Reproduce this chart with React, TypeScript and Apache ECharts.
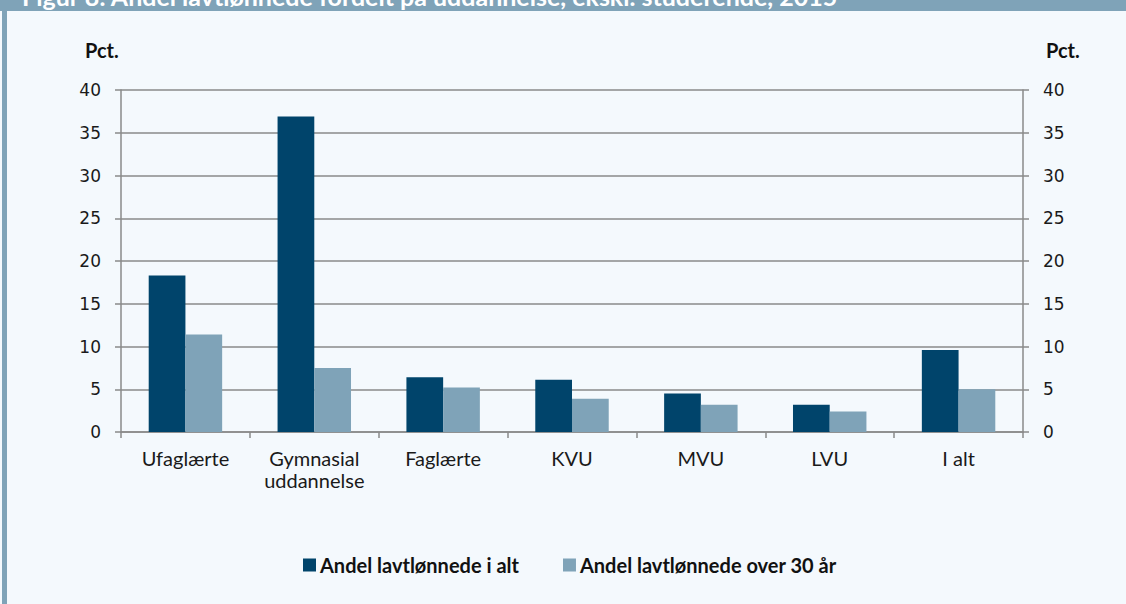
import React, { useEffect, useRef } from "react";
import * as echarts from "echarts";

const categories = ["Ufaglærte", "Gymnasial\nuddannelse", "Faglærte", "KVU", "MVU", "LVU", "I alt"];
const seriesNames = ["Andel lavtlønnede i alt", "Andel lavtlønnede over 30 år"];
const totalValues = [18.3, 36.9, 6.4, 6.1, 4.5, 3.2, 9.6];
const over30Values = [11.4, 7.5, 5.2, 3.9, 3.2, 2.4, 5.0];
const titleText = "Figur 8: Andel lavtlønnede fordelt på uddannelse, ekskl. studerende, 2015";
const unitLabel = "Pct.";

const DARK = "#00446b";
const LIGHT = "#7fa3b8";
const BG = "#f4f9fd";
const AXIS = "#8a8a8a";
const FONT = "Lato, 'Open Sans', sans-serif";
const NUMFONT = "'DejaVu Sans', sans-serif";

export default function App() {
  const ref = useRef<HTMLDivElement>(null);
  useEffect(() => {
    if (!ref.current) return;
    const chart = echarts.init(ref.current, undefined, { renderer: "svg" });
    const yAxisCommon = {
      type: "value",
      min: 0,
      max: 40,
      interval: 5,
      axisLine: { show: true, lineStyle: { color: AXIS, width: 1.5 } },
      axisTick: { show: true, length: 6, lineStyle: { color: AXIS, width: 1.5 } },
      axisLabel: { color: "#1a1a1a", fontSize: 17, fontFamily: NUMFONT, margin: 20 },
    };
    chart.setOption({
      animation: false,
      backgroundColor: BG,
      textStyle: { fontFamily: FONT },
      grid: { left: 121, right: 103, top: 90, bottom: 172, containLabel: false },
      xAxis: {
        type: "category",
        data: categories,
        axisLine: { show: true, lineStyle: { color: AXIS, width: 1.5 } },
        axisTick: { show: true, length: 6, alignWithLabel: false, lineStyle: { color: AXIS, width: 1.5 } },
        axisLabel: { color: "#1a1a1a", fontSize: 20, fontFamily: FONT, margin: 15, lineHeight: 22, interval: 0 },
      },
      yAxis: [
        { ...yAxisCommon, position: "left", splitLine: { show: true, lineStyle: { color: AXIS, width: 1.5 } } },
        { ...yAxisCommon, position: "right", splitLine: { show: false } },
      ],
      legend: {
        left: 303,
        top: 555,
        padding: 0,
        itemWidth: 13,
        itemHeight: 13,
        itemGap: 44,
        icon: "rect",
        textStyle: { fontSize: 20, fontWeight: "bold", color: "#111", fontFamily: FONT, padding: [0, 0, 0, -1] },
        data: seriesNames,
      },
      series: [
        {
          name: seriesNames[0],
          type: "bar",
          data: totalValues,
          itemStyle: { color: DARK },
          barGap: "0%",
          barCategoryGap: "43%",
          yAxisIndex: 0,
        },
        {
          name: seriesNames[1],
          type: "bar",
          data: over30Values,
          itemStyle: { color: LIGHT },
          barGap: "0%",
          barCategoryGap: "43%",
          yAxisIndex: 0,
        },
      ],
      graphic: [
        { type: "rect", shape: { x: 0, y: 0, width: 1126, height: 11 }, style: { fill: LIGHT }, z: 10 },
        { type: "rect", shape: { x: 2, y: 0, width: 5, height: 604 }, style: { fill: LIGHT }, z: 10 },
        {
          type: "text",
          x: 22,
          y: 8,
          z: 11,
          style: {
            text: titleText,
            fill: "#ffffff",
            font: `bold 25px ${FONT}`,
            textVerticalAlign: "bottom",
          },
        },
        {
          type: "text",
          x: 85,
          y: 50,
          style: { text: unitLabel, fill: "#111", font: `bold 20px ${FONT}`, textVerticalAlign: "middle" },
        },
        {
          type: "text",
          x: 1046,
          y: 50,
          style: { text: unitLabel, fill: "#111", font: `bold 20px ${FONT}`, textVerticalAlign: "middle" },
        },
      ],
    });
    return () => chart.dispose();
  }, []);
  return (
    <div
      ref={ref}
      style={{ position: "fixed", left: 0, top: 0, width: 1126, height: 604 }}
    />
  );
}
